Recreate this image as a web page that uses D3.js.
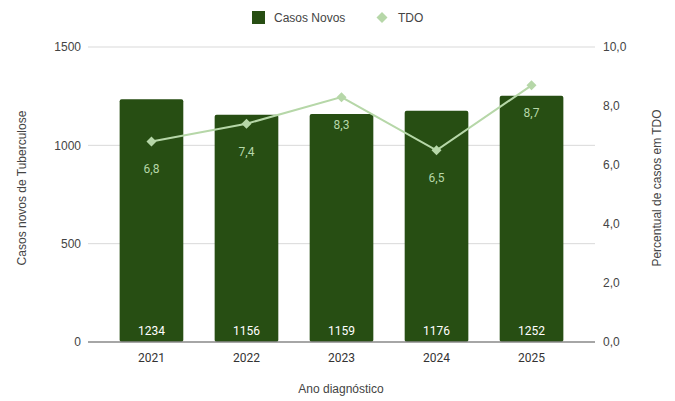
<!DOCTYPE html>
<html>
<head>
<meta charset="utf-8">
<script src="https://cdn.jsdelivr.net/npm/d3@7"></script>
<style>
  body { margin: 0; background: #fff; }
  text { font-family: Roboto, "Liberation Sans", Arial, sans-serif; }
  .sans { font-family: "Liberation Sans", Arial, sans-serif; }
</style>
</head>
<body>
<svg id="chart" width="675" height="401"></svg>
<script>
// data
const anos = ['2021', '2022', '2023', '2024', '2025'];
const casosNovos = [1234, 1156, 1159, 1176, 1252];
const tdo = [6.8, 7.4, 8.3, 6.5, 8.7];
const ticksCasos = [0, 500, 1000, 1500];
const ticksTdo = [0, 2, 4, 6, 8, 10];

const barColor = '#274e13';
const lineColor = '#b6d7a8';
const textColor = '#444';

const svg = d3.select('#chart');
const m = { left: 88, right: 595, top: 47, bottom: 342 };

const x = d3.scaleBand().domain(anos).range([m.left, m.right])
    .paddingInner(0.33).paddingOuter(0.333);
const y = d3.scaleLinear().domain([0, 1500]).range([m.bottom, m.top]);
const y2 = d3.scaleLinear().domain([0, 10]).range([m.bottom, m.top]);

const fmt = d3.format('.1f');
const virgula = v => fmt(v).replace('.', ',');

// gridlines
svg.append('g').selectAll('line')
    .data(ticksCasos.filter(d => d > 0))
    .join('line')
    .attr('x1', m.left).attr('x2', m.right)
    .attr('y1', d => y(d)).attr('y2', d => y(d))
    .attr('stroke', '#d9d9d9').attr('stroke-width', 1);

// left tick labels
svg.append('g').selectAll('text')
    .data(ticksCasos)
    .join('text')
    .attr('class', 'sans')
    .attr('x', 81).attr('y', d => y(d)).attr('dy', '0.35em')
    .attr('text-anchor', 'end').attr('font-size', 12).attr('fill', textColor)
    .text(d => d);

// right tick labels
svg.append('g').selectAll('text')
    .data(ticksTdo)
    .join('text')
    .attr('class', 'sans')
    .attr('x', 603).attr('y', d => y2(d)).attr('dy', '0.35em')
    .attr('text-anchor', 'start').attr('font-size', 12).attr('fill', textColor)
    .text(d => virgula(d));

// bars
svg.append('g').selectAll('rect')
    .data(anos)
    .join('rect')
    .attr('x', d => x(d))
    .attr('y', (d, i) => y(casosNovos[i]))
    .attr('width', x.bandwidth())
    .attr('height', (d, i) => y(0) - y(casosNovos[i]))
    .attr('rx', 2)
    .attr('fill', barColor);

// bar value labels
svg.append('g').selectAll('text')
    .data(anos)
    .join('text')
    .attr('x', d => x(d) + x.bandwidth() / 2)
    .attr('y', y(0) - 7)
    .attr('text-anchor', 'middle').attr('font-size', 12)
    .attr('fill', '#fff')
    .text((d, i) => casosNovos[i]);

// baseline
svg.append('line')
    .attr('x1', m.left).attr('x2', m.right)
    .attr('y1', y(0)).attr('y2', y(0))
    .attr('stroke', '#888').attr('stroke-width', 1.5);

// year labels
svg.append('g').selectAll('text')
    .data(anos)
    .join('text')
    .attr('x', d => x(d) + x.bandwidth() / 2)
    .attr('y', 362)
    .attr('text-anchor', 'middle').attr('font-size', 12).attr('fill', '#333')
    .text(d => d);

// TDO line
const line = d3.line()
    .x((d, i) => x(anos[i]) + x.bandwidth() / 2)
    .y(d => y2(d));

svg.append('path')
    .datum(tdo)
    .attr('d', line)
    .attr('fill', 'none')
    .attr('stroke', lineColor).attr('stroke-width', 2);

svg.append('g').selectAll('path')
    .data(tdo)
    .join('path')
    .attr('d', d3.symbol(d3.symbolSquare, 50))
    .attr('transform', (d, i) => `translate(${x(anos[i]) + x.bandwidth() / 2},${y2(d)}) rotate(45)`)
    .attr('fill', lineColor);

svg.append('g').selectAll('text')
    .data(tdo)
    .join('text')
    .attr('x', (d, i) => x(anos[i]) + x.bandwidth() / 2)
    .attr('y', d => y2(d) + 32)
    .attr('text-anchor', 'middle').attr('font-size', 12)
    .attr('fill', lineColor)
    .text(d => virgula(d));

// axis titles
svg.append('text')
    .attr('class', 'sans')
    .attr('transform', 'translate(26,188) rotate(-90)')
    .attr('text-anchor', 'middle').attr('font-size', 12).attr('fill', textColor)
    .text('Casos novos de Tuberculose');

svg.append('text')
    .attr('class', 'sans')
    .attr('transform', 'translate(661,188) rotate(-90)')
    .attr('text-anchor', 'middle').attr('font-size', 12).attr('fill', textColor)
    .text('Percentual de casos em TDO');

svg.append('text')
    .attr('class', 'sans')
    .attr('x', 341).attr('y', 393)
    .attr('text-anchor', 'middle').attr('font-size', 12).attr('fill', textColor)
    .text('Ano diagnóstico');

// legend
const leg = svg.append('g');
leg.append('rect').attr('x', 252).attr('y', 11).attr('width', 13).attr('height', 13)
    .attr('fill', barColor);
leg.append('text').attr('class', 'sans').attr('x', 274).attr('y', 17.5).attr('dy', '0.35em')
    .attr('font-size', 12).attr('fill', textColor).text('Casos Novos');
leg.append('path')
    .attr('d', d3.symbol(d3.symbolSquare, 60))
    .attr('transform', 'translate(382,17.5) rotate(45)')
    .attr('fill', lineColor);
leg.append('text').attr('class', 'sans').attr('x', 398).attr('y', 17.5).attr('dy', '0.35em')
    .attr('font-size', 12).attr('fill', textColor).text('TDO');
</script>
</body>
</html>
